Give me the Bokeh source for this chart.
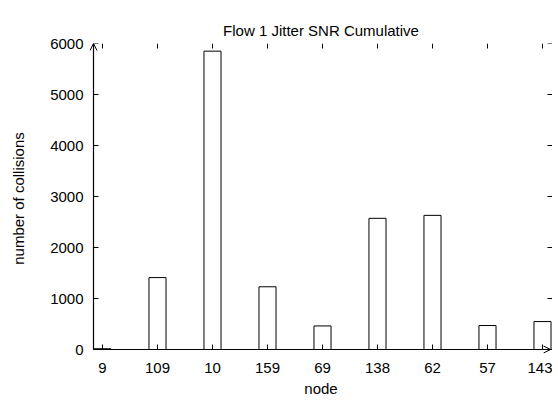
import math
from bokeh.plotting import figure
from bokeh.models import Range1d, FixedTicker, Arrow, OpenHead, ColumnDataSource
from bokeh.embed import file_html
from bokeh.resources import INLINE

# ---- data ----
nodes = ["9", "109", "10", "159", "69", "138", "62", "57", "143"]
collisions = [15, 1410, 5850, 1230, 462, 2572, 2630, 470, 548]
y_ticks = [0, 1000, 2000, 3000, 4000, 5000, 6000]
title_text = "Flow 1 Jitter SNR Cumulative"
x_label = "node"
y_label = "number of collisions"

FONT = "Liberation Sans"
FS = "15px"

positions = list(range(len(nodes)))
src = ColumnDataSource(dict(x=positions, top=collisions, node=nodes))

# axes lines sit at x0 / y=0; frame extends a few px beyond so arrow heads show
x0, x1 = -0.1636, 8.182
y_top = 6000
pad_x = 4 / 55.0
pad_y = 4 * y_top / 306.0

p = figure(frame_width=463, frame_height=310,
           x_range=Range1d(x0 - pad_x, x1), y_range=Range1d(-pad_y, y_top),
           output_backend="svg", toolbar_location=None,
           min_border_left=89, min_border_top=43, min_border_right=0,
           min_border_bottom=42)

p.title.text = title_text
p.title.text_font = FONT
p.title.text_font_size = FS
p.title.text_font_style = "normal"
p.title.align = "center"
p.title.text_color = "black"

p.outline_line_color = None
p.grid.visible = False
p.background_fill_color = "white"

p.vbar(x="x", top="top", width=0.31, bottom=0, source=src,
       fill_color="white", line_color="black", line_width=1)

# bottom axis (labels only; ticks drawn below as rays)
xa = p.xaxis[0]
xa.ticker = FixedTicker(ticks=positions)
xa.major_label_overrides = {i: n for i, n in enumerate(nodes)}
xa.axis_label = x_label
# left axis
ya = p.yaxis[0]
ya.ticker = FixedTicker(ticks=y_ticks)
ya.axis_label = y_label

for ax in (xa, ya):
    ax.axis_line_color = None
    ax.major_tick_line_color = None
    ax.major_tick_in = 0
    ax.major_tick_out = 0
    ax.minor_tick_line_color = None
    ax.major_label_text_font = FONT
    ax.major_label_text_font_size = FS
    ax.major_label_text_color = "black"
    ax.axis_label_text_font = FONT
    ax.axis_label_text_font_size = FS
    ax.axis_label_text_font_style = "normal"
    ax.axis_label_text_color = "black"

xa.major_label_standoff = 9
xa.axis_label_standoff = 4
ya.major_label_standoff = 6
ya.axis_label_standoff = 20

# inward ticks on all four sides
n_y = len(y_ticks)
n_x = len(positions)
p.ray(x=[x0] * n_y, y=y_ticks, length=5, length_units="screen", angle=0,
      line_color="black", line_width=1)
p.ray(x=[x1] * n_y, y=y_ticks, length=5, length_units="screen", angle=math.pi,
      line_color="black", line_width=1)
p.ray(x=positions, y=[0] * n_x, length=5, length_units="screen", angle=math.pi / 2,
      line_color="black", line_width=1)
p.ray(x=positions, y=[y_top] * n_x, length=5, length_units="screen", angle=-math.pi / 2,
      line_color="black", line_width=1)

# axis arrows
p.add_layout(Arrow(end=OpenHead(size=7, line_width=1), x_start=x0, y_start=0,
                   x_end=x0, y_end=y_top, line_width=1.2, line_color="black",
                   level="overlay"))
p.add_layout(Arrow(end=OpenHead(size=7, line_width=1), x_start=x0, y_start=0,
                   x_end=x1 - 0.036, y_end=0, line_width=1.2, line_color="black",
                   level="overlay"))

open("out.html", "w").write(file_html(p, INLINE))
